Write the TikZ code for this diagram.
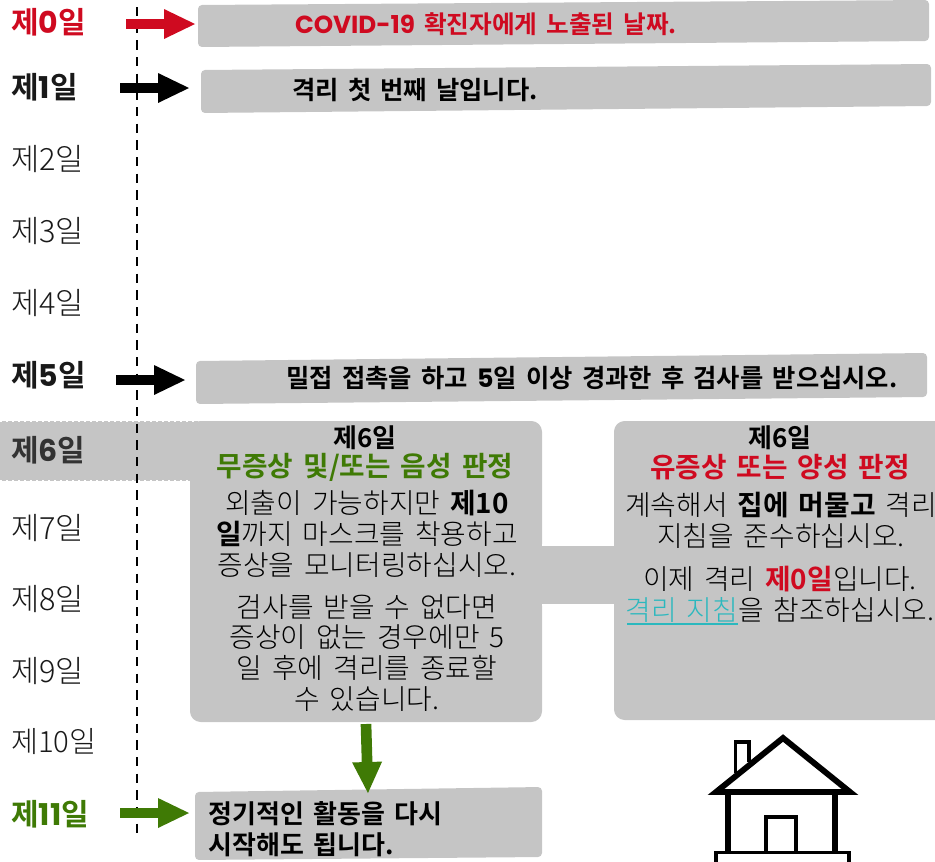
\documentclass[tikz,border=0pt]{standalone}
\usepackage{fontspec}
\usetikzlibrary{arrows.meta}
\setmainfont{Noto Sans CJK KR Light}[BoldFont={Noto Sans CJK KR Bold},WordSpace=1.6]
\newfontfamily\pop{Poppins}
\definecolor{boxgray}{HTML}{C5C5C5}
\definecolor{covidred}{HTML}{CF0A20}
\definecolor{safegreen}{HTML}{3F7A05}
\definecolor{linkteal}{HTML}{2BB8BE}
\tikzset{
  x=0.75pt,y=-0.75pt,
  day/.style={anchor=west,inner sep=0pt,font=\fontsize{23}{26}\selectfont,text=black!90},
  daybold/.style={day,font=\fontsize{22.5}{26}\selectfont\bfseries},
  barbox/.style={fill=boxgray,rounded corners=3pt},
  card/.style={fill=boxgray,rounded corners=8pt},
  bartext/.style={inner sep=0pt,font=\fontsize{19}{22}\selectfont\bfseries},
  cardtext/.style={inner sep=0pt,align=center,font=\fontsize{20.9}{23.2}\selectfont},
  cardhead/.style={inner sep=0pt,align=center,font=\fontsize{19.5}{22}\selectfont\bfseries},
  cardsub/.style={cardhead,font=\fontsize{20.8}{22}\selectfont\bfseries},
  fat/.style={line width=8pt,-{Triangle[length=24pt,width=20.5pt]}},
  wavy/.style={white,line width=0.9pt,dash pattern=on 1.5pt off 3pt},
  housethick/.style={line width=4.4pt,miter limit=10},
  housethin/.style={line width=2.3pt},
}
\begin{document}
\begin{tikzpicture}
\useasboundingbox (0,0) rectangle (935,861);
% grey shapes
\fill[barbox] (198,5) -- (929,0) -- (929,41) -- (198,47) -- cycle;
\fill[barbox] (201,70) -- (931,64) -- (931,106) -- (201,113) -- cycle;
\fill[barbox] (196,361) -- (927,353) -- (927,397) -- (196,404) -- cycle;
\fill[boxgray] (0,421) rectangle (232,481);
\draw[wavy] (0,421) -- (232,421);
\draw[wavy] (0,481) -- (190,481);
\fill[card] (190,421) rectangle (542,722);
\fill[card] (614,421) -- (950,421) -- (950,720) -- (614,720) -- cycle;
\fill[boxgray] (540,546) rectangle (616,604);
\draw[wavy] (542,545) -- (614,545);
\draw[wavy] (542,605) -- (614,605);
\fill[barbox] (195,792) -- (542,787) -- (542,857) -- (195,860) -- cycle;
% timeline
\coordinate (tlA) at (137,7);
\coordinate (tlB) at (137,834);
\draw[black,line width=1.2pt,dash pattern=on 7pt off 5.5pt] (tlA) -- (tlB);
% day labels
\node[daybold,text=covidred] (d0) at (11,22) {제{\pop 0}일};
\node[daybold] (d1) at (11,87) {제{\pop 1}일};
\node[day] (d2) at (11,159) {제2일};
\node[day] (d3) at (11,231) {제3일};
\node[day] (d4) at (11,303) {제4일};
\node[daybold] (d5) at (11,375) {제{\pop 5}일};
\node[daybold,text=black!80] (d6) at (11,450) {제{\pop 6}일};
\node[day] (d7) at (11,528) {제7일};
\node[day] (d8) at (11,599) {제8일};
\node[day] (d9) at (11,671) {제9일};
\node[day,font=\fontsize{22}{26}\selectfont] (d10) at (11,742) {제10일};
\node[daybold,text=safegreen] (d11) at (11,814) {제{\pop 11}일};
% arrows
\coordinate (a0s) at (126,24); \coordinate (a0e) at (196,24);
\coordinate (a1s) at (120,88); \coordinate (a1e) at (190,88);
\coordinate (a5s) at (116,380); \coordinate (a5e) at (186,380);
\coordinate (a11s) at (120,813); \coordinate (a11e) at (190,813);
\coordinate (agS) at (366,724); \coordinate (agE) at (368,794);
\draw[fat,covidred] (a0s) -- (a0e);
\draw[fat,black] (a1s) -- (a1e);
\draw[fat,black] (a5s) -- (a5e);
\draw[fat,safegreen] (a11s) -- (a11e);
\draw[fat,safegreen] (agS) -- (agE);
% bar texts
\node[bartext,text=covidred,font=\fontsize{18.5}{22}\selectfont\bfseries] (t0) at (486,24) {{\pop COVID-19} 확진자에게 노출된 날짜.};
\node[bartext] (t1) at (415,90) {격리 첫 번째 날입니다.};
\node[bartext] (t5) at (592,378) {밀접 접촉을 하고 {\pop 5}일 이상 경과한 후 검사를 받으십시오.};
\node[bartext,align=left,anchor=west,font=\fontsize{19.5}{23}\selectfont\bfseries] (t11) at (208,829) {정기적인 활동을 다시\\시작해도 됩니다.};
% left card
\node[cardhead] (h6a) at (365,438) {제6일};
\node[cardsub,text=safegreen] (h6b) at (365,467) {무증상 및/또는 음성 판정};
\node[cardtext] (b6a) at (367,534) {외출이 가능하지만 \textbf{제10}\\\textbf{일}까지 마스크를 착용하고\\증상을 모니터링하십시오.};
\node[cardtext] (b6b) at (367,653) {검사를 받을 수 없다면\\증상이 없는 경우에만 5\\일 후에 격리를 종료할\\수 있습니다.};
% right card
\node[cardhead] (h7a) at (780,438) {제6일};
\node[cardsub,text=covidred] (h7b) at (780,467) {유증상 또는 양성 판정};
\node[cardtext] (b7a) at (781,520) {계속해서 \textbf{집에 머물고} 격리\\지침을 준수하십시오.};
\node[cardtext] (b7b) at (780,594) {이제 격리 \textbf{\textcolor{covidred}{제0일}}입니다.\\\textcolor{linkteal}{격리 지침}을 참조하십시오.};
\coordinate (ulA) at (627,624); \coordinate (ulB) at (738,624);
\draw[linkteal,line width=1.2pt] (ulA) -- (ulB);
% house
\draw[housethin,fill=white] (735.5,773) -- (735.5,742) -- (749,742) -- (749,762);
\draw[housethick] (783,738) -- (716,792) -- (850,792) -- cycle;
\draw[housethick] (728,792) -- (728,852);
\draw[housethick] (835,792) -- (835,852);
\draw[housethin] (766,852) -- (766,817) -- (796,817) -- (796,852);
\draw[housethin] (716,865) -- (716,852.5) -- (849,852.5) -- (849,865);
\end{tikzpicture}
\end{document}
